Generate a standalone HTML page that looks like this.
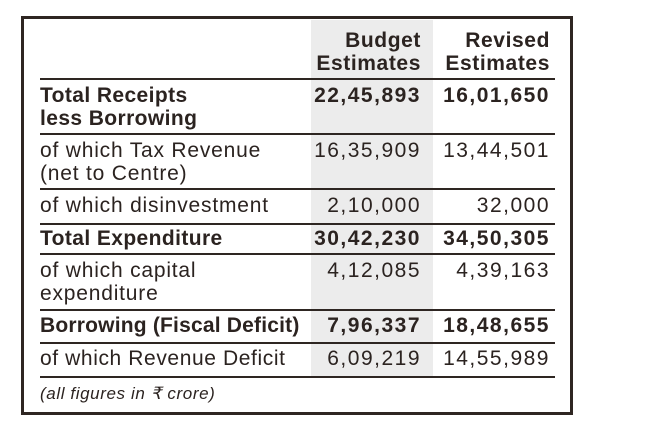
<!DOCTYPE html><html><head><style>
body{margin:0;width:660px;height:440px;background:#fff;position:relative;overflow:hidden;font-family:"Liberation Sans",sans-serif;color:#2b2320}
.frame{position:absolute;left:21px;top:16px;width:546px;height:393px;border:3px solid #2e2622}
.grey{position:absolute;left:311px;top:20px;width:122px;height:356px;background:#ececec}
.ln{position:absolute;left:40px;width:515px;height:2px;background:#2e2622}
.t{position:absolute;font-size:21px;line-height:23px;letter-spacing:0.8px;white-space:nowrap}
.b{font-weight:bold;letter-spacing:0.4px}
.r1,.r2{letter-spacing:1.5px}
.r1{position:absolute;right:239px;text-align:right}
.r2{position:absolute;right:110px;text-align:right}
</style></head><body>
<div class="grey"></div>
<div class="frame"></div>
<div class="ln" style="top:78px"></div>
<div class="ln" style="top:133px"></div>
<div class="ln" style="top:188px"></div>
<div class="ln" style="top:223px"></div>
<div class="ln" style="top:253px"></div>
<div class="ln" style="top:309px"></div>
<div class="ln" style="top:342px"></div>
<div class="ln" style="top:376px"></div>

<div class="t b r1" style="top:29px;letter-spacing:0.6px">Budget<br>Estimates</div>
<div class="t b r2" style="top:29px;letter-spacing:0.6px">Revised<br>Estimates</div>

<div class="t b" style="left:40px;top:84px">Total Receipts<br>less Borrowing</div>
<div class="t b r1" style="top:84px">22,45,893</div>
<div class="t b r2" style="top:84px">16,01,650</div>

<div class="t" style="left:40px;top:139px">of which Tax Revenue<br>(net to Centre)</div>
<div class="t r1" style="top:139px">16,35,909</div>
<div class="t r2" style="top:139px">13,44,501</div>

<div class="t" style="left:40px;top:194px">of which disinvestment</div>
<div class="t r1" style="top:194px">2,10,000</div>
<div class="t r2" style="top:194px">32,000</div>

<div class="t b" style="left:40px;top:227px">Total Expenditure</div>
<div class="t b r1" style="top:227px">30,42,230</div>
<div class="t b r2" style="top:227px">34,50,305</div>

<div class="t" style="left:40px;top:259px">of which capital<br>expenditure</div>
<div class="t r1" style="top:259px">4,12,085</div>
<div class="t r2" style="top:259px">4,39,163</div>

<div class="t b" style="left:40px;top:314px;letter-spacing:0.2px">Borrowing (Fiscal Deficit)</div>
<div class="t b r1" style="top:314px">7,96,337</div>
<div class="t b r2" style="top:314px">18,48,655</div>

<div class="t" style="left:40px;top:347px;letter-spacing:0.6px">of which Revenue Deficit</div>
<div class="t r1" style="top:347px">6,09,219</div>
<div class="t r2" style="top:347px">14,55,989</div>

<div class="t" style="left:40px;top:382px;font-size:17px;font-style:italic;letter-spacing:0.6px">(all figures in ₹ crore)</div>
</body></html>
